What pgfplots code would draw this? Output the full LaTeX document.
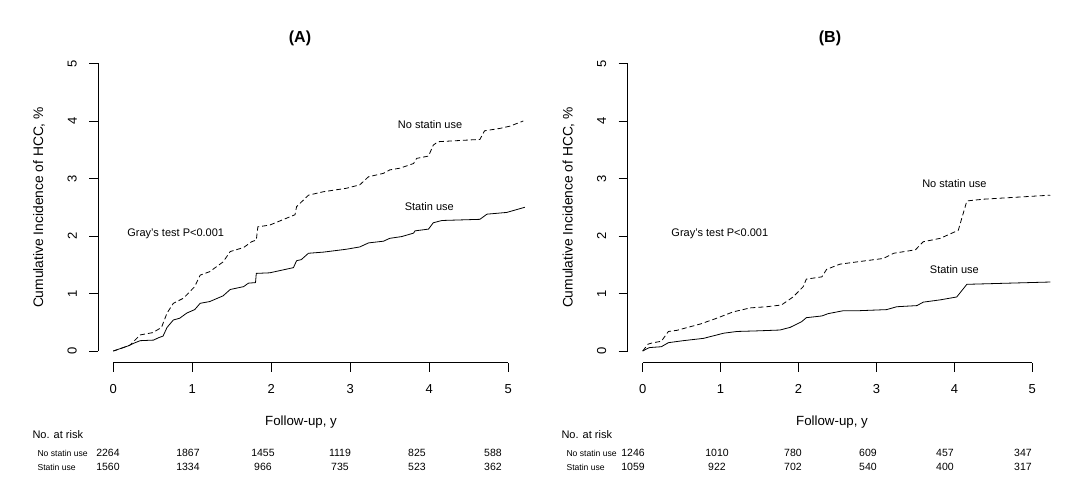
\documentclass[border=0pt]{standalone}
\usepackage{pgfplots}
\pgfplotsset{compat=1.18}
\usepackage{fontspec}
\setmainfont{Liberation Sans}

\pgfplotsset{
  kmaxis/.style={
    scale only axis, anchor=south west, clip=false,
    axis lines=left, axis line style={draw=none},
    ymin=-0.203, ymax=5.2, xmax=5.4,
    xtick={0,...,5}, ytick={0,...,5},
    tick align=outside, major tick length=9pt,
    tick style={black, line width=0.8pt},
    ticklabel style={font=\fontsize{13}{15}\selectfont},
    xticklabel style={yshift=-9pt},
    yticklabel style={xshift=-9pt, rotate=90, anchor=south},
    /pgf/number format/assume math mode=true,
  },
  nostatin/.style={black, line width=0.8pt, dash pattern=on 5pt off 3pt},
  statin/.style={black, line width=0.8pt},
}
\tikzset{note/.style={font=\fontsize{11}{12}\selectfont}}

\begin{document}
\begin{tikzpicture}
\useasboundingbox (0pt,0pt) rectangle (1080pt,490pt);

% panel A
\begin{axis}[kmaxis, at={(98.3pt,127.3pt)}, width=441.6pt, height=310.7pt, xmin=-0.19]
\draw[line width=0.8pt] (axis cs:0,-0.203) -- (axis cs:5,-0.203);
\draw[line width=0.8pt] (axis cs:-0.19,0) -- (axis cs:-0.19,5);
\addplot[nostatin] coordinates {
(0,0) (0.21,0.10) (0.34,0.28) (0.50,0.32) (0.61,0.41) (0.68,0.66) (0.76,0.83)
(0.89,0.92) (1.03,1.12) (1.10,1.32) (1.22,1.38) (1.39,1.55) (1.48,1.73)
(1.65,1.80) (1.75,1.90) (1.81,1.93) (1.83,2.16) (1.98,2.19) (2.30,2.37)
(2.32,2.51) (2.47,2.71) (2.66,2.77) (2.95,2.83) (3.12,2.89) (3.23,3.03)
(3.42,3.09) (3.50,3.15) (3.63,3.18) (3.80,3.26) (3.84,3.35) (3.99,3.39)
(4.05,3.58) (4.11,3.64) (4.64,3.68) (4.70,3.83) (4.89,3.87) (5.02,3.91) (5.19,4.00)
};
\addplot[statin] coordinates {
(0,0) (0.19,0.09) (0.25,0.13) (0.34,0.18) (0.51,0.19) (0.57,0.23) (0.63,0.26)
(0.68,0.41) (0.76,0.54) (0.84,0.57) (0.93,0.66) (1.03,0.72) (1.10,0.83)
(1.22,0.86) (1.39,0.96) (1.48,1.07) (1.65,1.12) (1.71,1.18) (1.80,1.19)
(1.81,1.35) (1.98,1.36) (2.28,1.45) (2.32,1.57) (2.38,1.59) (2.47,1.70)
(2.66,1.72) (2.95,1.77) (3.12,1.81) (3.23,1.88) (3.42,1.91) (3.50,1.96)
(3.65,1.99) (3.80,2.05) (3.82,2.09) (3.99,2.12) (4.05,2.23) (4.16,2.27)
(4.64,2.29) (4.73,2.38) (4.98,2.41) (5.21,2.50)
};
\node[note] at (axis cs:4.01,3.93) {No statin use};
\node[note] at (axis cs:4.00,2.52) {Statin use};
\node[note] at (axis cs:0.79,2.03) {Gray's test P<0.001};
\end{axis}

% panel B
\begin{axis}[kmaxis, at={(627.7pt,127.3pt)}, width=435.8pt, height=310.7pt, xmin=-0.192]
\draw[line width=0.8pt] (axis cs:0,-0.203) -- (axis cs:5,-0.203);
\draw[line width=0.8pt] (axis cs:-0.192,0) -- (axis cs:-0.192,5);
\addplot[nostatin] coordinates {
(0,0) (0.07,0.12) (0.12,0.14) (0.24,0.17) (0.33,0.34) (0.44,0.36) (0.74,0.47)
(0.95,0.57) (1.16,0.68) (1.38,0.75) (1.59,0.77) (1.78,0.80) (1.93,0.94)
(2.06,1.12) (2.10,1.25) (2.30,1.29) (2.36,1.42) (2.53,1.51) (2.75,1.55)
(3.09,1.61) (3.22,1.70) (3.50,1.76) (3.60,1.90) (3.82,1.96) (4.05,2.10)
(4.16,2.61) (4.37,2.64) (5.23,2.71)
};
\addplot[statin] coordinates {
(0,0) (0.07,0.05) (0.09,0.06) (0.24,0.075) (0.33,0.145) (0.52,0.18) (0.78,0.22)
(1.04,0.31) (1.21,0.34) (1.46,0.35) (1.76,0.365) (1.89,0.41) (2.04,0.51)
(2.10,0.58) (2.30,0.61) (2.38,0.65) (2.57,0.70) (2.75,0.70) (3.13,0.72)
(3.26,0.77) (3.52,0.79) (3.60,0.85) (3.82,0.89) (4.03,0.94) (4.16,1.16) (5.23,1.20)
};
\node[note] at (axis cs:4.00,2.92) {No statin use};
\node[note] at (axis cs:4.00,1.41) {Statin use};
\node[note] at (axis cs:0.99,2.03) {Gray's test P<0.001};
\end{axis}

% titles and axis labels
\node[font=\bfseries\fontsize{16}{18}\selectfont] at (300pt,452pt) {(A)};
\node[font=\bfseries\fontsize{16}{18}\selectfont] at (830pt,452pt) {(B)};
\node[rotate=90, font=\fontsize{13.8}{15}\selectfont] at (39pt,282.5pt) {Cumulative Incidence of HCC, \%};
\node[rotate=90, font=\fontsize{13.8}{15}\selectfont] at (568.5pt,282.5pt) {Cumulative Incidence of HCC, \%};
\node[font=\fontsize{13.3}{15}\selectfont] at (301pt,68pt) {Follow-up, y};
\node[font=\fontsize{13.3}{15}\selectfont] at (832pt,68pt) {Follow-up, y};

% numbers at risk
\begin{scope}[every node/.style={font=\fontsize{10.5}{12}\selectfont}]
\node[anchor=west, font=\fontsize{11}{12}\selectfont] at (29pt,55pt) {No. at risk};
\node[anchor=west, font=\fontsize{8.6}{10}\selectfont] at (34pt,37pt) {No statin use};
\node[anchor=west, font=\fontsize{8.6}{10}\selectfont] at (34pt,23pt) {Statin use};
\foreach \x/\a/\b in {108/2264/1560, 188/1867/1334, 263/1455/966, 340/1119/735, 417/825/523, 493/588/362} {
  \node at (\x pt,37pt) {\a};
  \node at (\x pt,23pt) {\b};
}
\node[anchor=west, font=\fontsize{11}{12}\selectfont] at (558pt,55pt) {No. at risk};
\node[anchor=west, font=\fontsize{8.6}{10}\selectfont] at (563pt,37pt) {No statin use};
\node[anchor=west, font=\fontsize{8.6}{10}\selectfont] at (563pt,23pt) {Statin use};
\foreach \x/\a/\b in {633/1246/1059, 717/1010/922, 793/780/702, 868/609/540, 945/457/400, 1023/347/317} {
  \node at (\x pt,37pt) {\a};
  \node at (\x pt,23pt) {\b};
}
\end{scope}
\end{tikzpicture}
\end{document}
